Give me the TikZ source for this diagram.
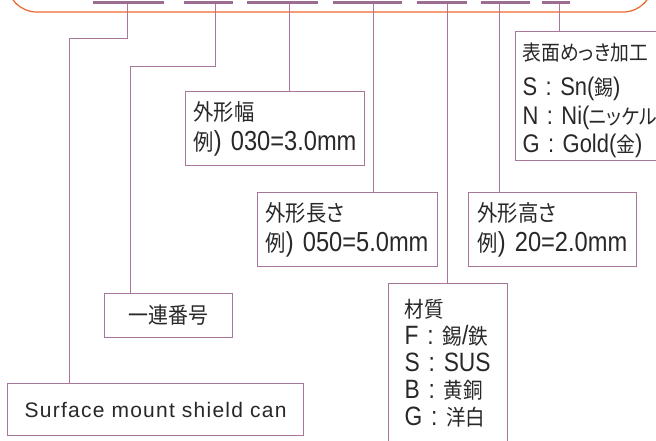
\documentclass[tikz,border=0pt]{standalone}
\usepackage{fontspec}
\setmainfont{Liberation Sans}[FakeStretch=0.86,WordSpace=0.8]
\newfontfamily\jpfont[Scale=0.82,FakeStretch=0.9,RawFeature=+palt]{Noto Sans CJK JP}
\newfontfamily\surffont[LetterSpace=6]{Liberation Sans}
\newfontfamily\platfont[FakeStretch=0.86,WordSpace=0.55]{Liberation Sans}
\newcommand\J[1]{{\jpfont #1}}
\definecolor{orangec}{RGB}{238,102,44}
\definecolor{barc}{RGB}{158,108,145}
\definecolor{linec}{RGB}{168,118,155}
\definecolor{txtc}{RGB}{40,40,40}
\begin{document}
\begin{tikzpicture}[x=1pt,y=-1pt,
  box/.style={draw=linec, line width=1.1pt, fill=white, anchor=north west,
    inner xsep=8pt, inner ysep=0pt, align=left, text=txtc,
    font=\fontsize{27.5}{30}\selectfont},
  bar/.style={fill=barc, inner sep=0pt, minimum height=3pt, anchor=north west},
  conn/.style={draw=linec, line width=1pt}]
\useasboundingbox (0,0) rectangle (656,440);
\clip (0,0) rectangle (656,440);
\fill[white] (0,0) rectangle (656,440);
% frame of the part number
\draw[orangec, line width=1.2pt, rounded corners=30pt] (7,-40) rectangle (653,12);
% bars
\node[bar, minimum width=71pt] (b1) at (93,1) {};
\node[bar, minimum width=49pt] (b2) at (184,1) {};
\node[bar, minimum width=71pt] (b3) at (247,1) {};
\node[bar, minimum width=69pt] (b4) at (333,1) {};
\node[bar, minimum width=50pt] (b5) at (417,1) {};
\node[bar, minimum width=49pt] (b6) at (481,1) {};
\node[bar, minimum width=28pt] (b7) at (542,1) {};
% boxes
\node[box, text width=163pt, minimum height=74pt] (wid) at (185,91)
  {\J{外形幅}\\\J{例})~030=3.0mm};
\node[box, text width=164pt, minimum height=74pt] (len) at (257,192)
  {\J{外形長さ}\\\J{例})~050=5.0mm};
\node[box, inner xsep=9pt, text width=150pt, minimum height=74pt] (hei) at (468,192)
  {\J{外形高さ}\\\J{例})~20=2.0mm};
\node[box, inner xsep=7pt, text width=146pt, minimum height=129pt,
  font=\platfont\fontsize{25.5}{28.5}\selectfont] (plat) at (515,31)
  {\rule{0pt}{26pt}\J{表面めっき加工}\\[7pt]S~:~Sn(\J{錫})\\N~:~Ni(\J{ニッケル})\\G~:~Gold(\J{金})};
\node[box, inner xsep=16pt, text width=87pt, minimum height=160pt,
  font=\fontsize{26.5}{27}\selectfont] (mat) at (388,283)
  {\J{材質}\\F~:~\J{錫}/\J{鉄}\\S~:~SUS\\B~:~\J{黄銅}\\G~:~\J{洋白}};
\node[box, align=center, inner xsep=0pt, text width=128pt, minimum height=44pt,
  font=\fontsize{27}{30}\selectfont] (ser) at (104,293) {\J{一連番号}};
\node[box, align=center, inner xsep=0pt, text width=296pt, minimum height=52pt,
  font=\surffont\fontsize{21}{24}\selectfont] (surf) at (7,383) {Surface mount shield can};
% connectors
\coordinate (k1) at (127,38);
\coordinate (k1b) at (69,38);
\coordinate (k2) at (215,66);
\coordinate (k2b) at (130,66);
\coordinate (k3) at (289,0);
\coordinate (k4) at (373,0);
\coordinate (k5) at (447,0);
\coordinate (k6) at (499,0);
\coordinate (k7) at (559,0);
\draw[conn] (b1.south -| k1) -- (k1) -- (k1b) -- (k1b |- surf.north);
\draw[conn] (b2.south -| k2) -- (k2) -- (k2b) -- (k2b |- ser.north);
\draw[conn] (b3.south -| k3) -- (k3 |- wid.north);
\draw[conn] (b4.south -| k4) -- (k4 |- len.north);
\draw[conn] (b5.south -| k5) -- (k5 |- mat.north);
\draw[conn] (b6.south -| k6) -- (k6 |- hei.north);
\draw[conn] (b7.south -| k7) -- (k7 |- plat.north);
\end{tikzpicture}
\end{document}
